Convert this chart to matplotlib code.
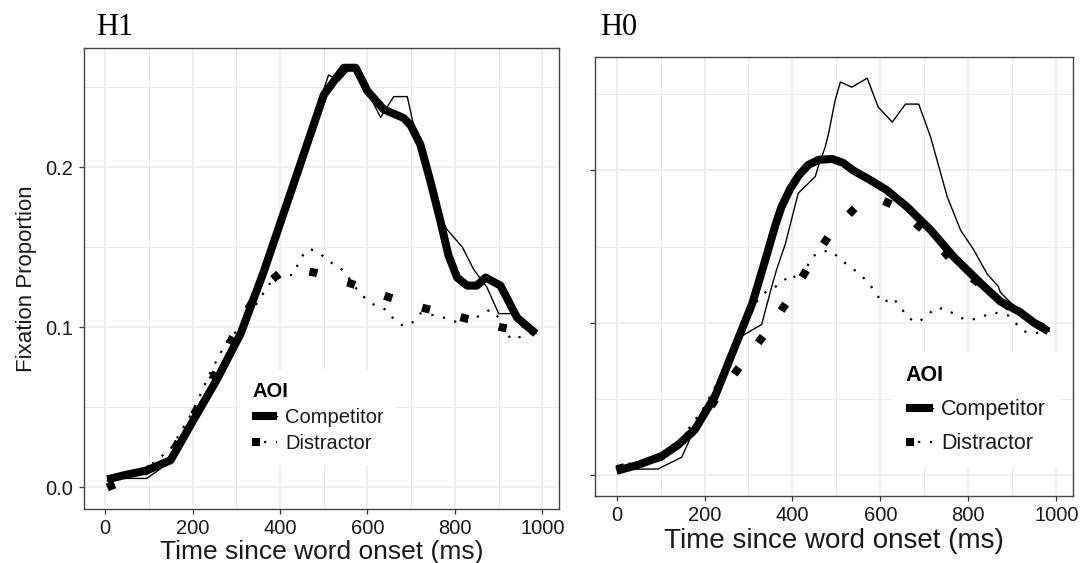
import matplotlib.pyplot as plt
from matplotlib.lines import Line2D
from matplotlib.ticker import MultipleLocator

plt.rcParams["font.family"] = ["Liberation Sans", "DejaVu Sans"]

# ---- H1 panel data (time in ms, fixation proportion) ----
h1_comp_model_t = [5, 50, 95, 150, 202, 255, 310, 362, 438, 500, 546, 573, 600, 637,
                   683, 699, 721, 744, 767, 785, 805, 828, 850, 870, 904, 942, 985]
h1_comp_model_y = [0.005, 0.008, 0.0105, 0.017, 0.042, 0.067, 0.096, 0.134, 0.195, 0.245,
                   0.262, 0.262, 0.2475, 0.236, 0.2306, 0.226, 0.214, 0.191, 0.166, 0.145,
                   0.131, 0.126, 0.126, 0.131, 0.126, 0.106, 0.096]

h1_comp_data_t = [5, 25, 95, 150, 202, 255, 310, 362, 438, 490, 511, 535, 555, 573, 600,
                  630, 660, 691, 703, 721, 744, 767, 782, 817, 843, 873, 900, 928, 955, 985]
h1_comp_data_y = [0.004, 0.0056, 0.0056, 0.016, 0.041, 0.066, 0.095, 0.133, 0.195, 0.240,
                  0.2575, 0.254, 0.26, 0.262, 0.247, 0.231, 0.244, 0.244, 0.229, 0.214,
                  0.19, 0.168, 0.161, 0.15, 0.136, 0.125, 0.1085, 0.1085, 0.1, 0.096]

h1_dist_data_t = [5, 50, 100, 150, 200, 241, 278, 323, 347, 376, 407, 430, 449, 468, 492,
                  511, 535, 553, 580, 607, 645, 660, 683, 703, 721, 767, 790, 813, 835,
                  858, 881, 908, 927, 950, 985]
h1_dist_data_y = [0.005, 0.009, 0.013, 0.024, 0.047, 0.072, 0.091, 0.104, 0.115, 0.127,
                  0.1325, 0.1327, 0.144, 0.149, 0.146, 0.141, 0.138, 0.1325, 0.122, 0.115,
                  0.1106, 0.105, 0.1006, 0.103, 0.1087, 0.107, 0.104, 0.103, 0.104,
                  0.1075, 0.111, 0.104, 0.0925, 0.094, 0.097]

h1_dist_model_t = [5, 80, 150, 225, 266, 301, 350, 400, 440, 481, 565, 646, 728, 817, 904, 985]
h1_dist_model_y = [0.0, 0.008, 0.020, 0.056, 0.079, 0.099, 0.122, 0.134, 0.136, 0.134,
                   0.127, 0.119, 0.112, 0.106, 0.100, 0.096]

# ---- H0 panel data ----
h0_comp_model_t = [0, 50, 103, 140, 178, 224, 270, 309, 340, 361, 375, 395, 415, 436, 460,
                   490, 515, 538, 575, 615, 661, 714, 766, 828, 873, 918, 950, 982]
h0_comp_model_y = [0.003, 0.007, 0.0127, 0.02, 0.030, 0.052, 0.085, 0.113, 0.143, 0.164,
                   0.176, 0.188, 0.197, 0.2036, 0.207, 0.2075, 0.205, 0.2, 0.194, 0.187,
                   0.176, 0.161, 0.1435, 0.126, 0.114, 0.107, 0.1, 0.0945]

h0_comp_data_t = [0, 94, 148, 167, 285, 330, 353, 364, 384, 413, 452, 458, 474, 482, 497,
                  509, 535, 570, 595, 627, 657, 687, 714, 752, 782, 812, 843, 868, 873,
                  918, 950, 982]
h0_comp_data_y = [0.004, 0.0042, 0.0119, 0.0239, 0.0914, 0.099, 0.124, 0.135, 0.152, 0.185,
                  0.196, 0.202, 0.215, 0.224, 0.246, 0.258, 0.2546, 0.2605, 0.2415, 0.2317,
                  0.2435, 0.2435, 0.222, 0.1827, 0.161, 0.148, 0.132, 0.124, 0.12, 0.107,
                  0.1, 0.0945]

h0_dist_data_t = [0, 26, 50, 100, 150, 200, 250, 290, 319, 338, 375, 395, 417, 445, 468,
                  490, 509, 531, 554, 573, 605, 627, 645, 661, 684, 702, 725, 752, 775,
                  800, 828, 855, 890, 926, 949, 985]
h0_dist_data_y = [0.006, 0.0075, 0.009, 0.014, 0.025, 0.045, 0.072, 0.097, 0.114, 0.12,
                  0.126, 0.132, 0.128, 0.1435, 0.147, 0.147, 0.1415, 0.137, 0.1317, 0.1265,
                  0.113, 0.1167, 0.111, 0.1036, 0.1003, 0.1036, 0.110, 0.1088, 0.1042,
                  0.1016, 0.1036, 0.107, 0.105, 0.0945, 0.0931, 0.095]

h0_dist_model_t = [0, 100, 180, 228, 281, 338, 390, 438, 486, 547, 600, 638, 709, 775, 850,
                   923, 985]
h0_dist_model_y = [0.004, 0.012, 0.03, 0.0513, 0.0716, 0.093, 0.1147, 0.1376, 0.1585,
                   0.1768, 0.181, 0.176, 0.158, 0.137, 0.12, 0.1036, 0.095]

# Line styles
THICK = 5.8
THIN = 1.0
DOT_LW = 1.6
THICK_DOT = (0, (1, 3.9))
THIN_DOT = (0, (1, 4.4))
TEXT_COL = "#1a1a1a"
GRID_COL = "#ebebeb"


def draw_panel(ax, comp_model, comp_data, dist_data, dist_model, ylabels):
    ax.plot(*comp_data, color="black", lw=THIN, zorder=3)
    ax.plot(*dist_data, color="black", lw=DOT_LW, ls=THIN_DOT, zorder=3)
    ax.plot(*comp_model, color="black", lw=THICK, solid_capstyle="butt",
            solid_joinstyle="round", zorder=4)
    ax.plot(*dist_model, color="black", lw=THICK, ls=THICK_DOT, zorder=4)

    ax.set_xlim(-49, 1038)
    ax.set_ylim(-0.0135, 0.2744)
    ax.xaxis.set_major_locator(MultipleLocator(200))
    ax.xaxis.set_minor_locator(MultipleLocator(100))
    ax.yaxis.set_major_locator(MultipleLocator(0.1))
    ax.yaxis.set_minor_locator(MultipleLocator(0.05))
    ax.grid(True, which="major", color=GRID_COL, lw=1.1, zorder=0)
    ax.grid(True, which="minor", color=GRID_COL, lw=0.7, zorder=0)
    ax.set_axisbelow(True)
    ax.tick_params(which="minor", length=0)
    ax.tick_params(which="major", length=3.5, width=0.9, color="#333333",
                   labelsize=14.5, labelcolor=TEXT_COL, pad=4)
    for sp in ax.spines.values():
        sp.set_color("#444444")
        sp.set_linewidth(1.0)
    if ylabels:
        ax.yaxis.set_major_formatter(lambda v, p: f"{v:.1f}")
    else:
        ax.tick_params(axis="y", labelleft=False)


fig = plt.figure(figsize=(10.83, 5.63), dpi=100)
ax1 = fig.add_axes([0.0772, 0.0959, 0.439, 0.819])
ax2 = fig.add_axes([0.5494, 0.119, 0.4414, 0.7798])

draw_panel(ax1, (h1_comp_model_t, h1_comp_model_y), (h1_comp_data_t, h1_comp_data_y),
           (h1_dist_data_t, h1_dist_data_y), (h1_dist_model_t, h1_dist_model_y), True)
draw_panel(ax2, (h0_comp_model_t, h0_comp_model_y), (h0_comp_data_t, h0_comp_data_y),
           (h0_dist_data_t, h0_dist_data_y), (h0_dist_model_t, h0_dist_model_y), False)

ax1.set_ylabel("Fixation Proportion", fontsize=16, color=TEXT_COL, labelpad=6)
ax1.set_xlabel("Time since word onset (ms)", fontsize=19, color=TEXT_COL, labelpad=1)
ax2.set_xlabel("Time since word onset (ms)", fontsize=20, color=TEXT_COL, labelpad=2)

fig.text(96 / 1083, 1 - 35 / 563, "H1", family="Liberation Serif", fontsize=22,
         va="baseline")
fig.text(600 / 1083, 1 - 35 / 563, "H0", family="Liberation Serif", fontsize=22,
         va="baseline")

comp_handle = (Line2D([], [], color="black", lw=THICK, solid_capstyle="butt"),
               Line2D([], [], color="black", lw=THIN))
dist_handle = (Line2D([], [], color="black", lw=THICK, ls=THICK_DOT),
               Line2D([], [], color="black", lw=DOT_LW, ls=THIN_DOT))

for ax, anchor, fs, spacing in [(ax1, (0.329, 0.3015), 14.5, 0.35),
                                (ax2, (0.623, 0.327), 15.5, 0.6)]:
    leg = ax.legend([comp_handle, dist_handle], ["Competitor", "Distractor"],
                    title="AOI", loc="upper left", bbox_to_anchor=anchor,
                    borderaxespad=0, fontsize=fs, title_fontsize=fs,
                    handlelength=1.25, handletextpad=0.4, labelspacing=spacing,
                    frameon=True, fancybox=False, framealpha=1,
                    facecolor="white", edgecolor="none", borderpad=0.6)
    leg.get_title().set_fontweight("bold")
    leg._legend_box.align = "left"
    for t in leg.get_texts():
        t.set_color(TEXT_COL)
    leg.set_zorder(5)

fig.savefig("out.png", dpi=100)
